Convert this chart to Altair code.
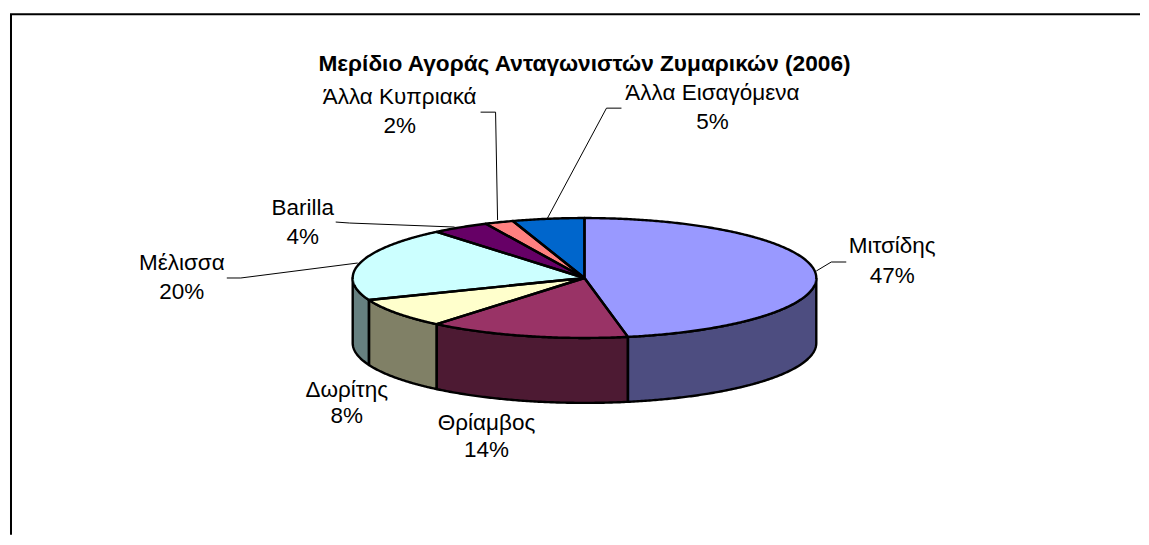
import math
import altair as alt
import pandas as pd

# --- chart values
names = ["Μιτσίδης", "Θρίαμβος", "Δωρίτης", "Μέλισσα", "Barilla", "Άλλα Κυπριακά", "Άλλα Εισαγόμενα"]
shares = [47, 14, 8, 20, 4, 2, 5]
top_colors = ["#9999FF", "#993366", "#FFFFCC", "#CCFFFF", "#660066", "#FF8080", "#0066CC"]
side_colors = ["#4D4D80", "#4D1A33", "#808066", "#668080", "#330033", "#804040", "#003366"]
title_text = "Μερίδιο Αγοράς Ανταγωνιστών Ζυμαρικών (2006)"

# --- layout (units = px relative to the pie centre)
W, H = 1133, 527
CX, CY = 585, 278
RX, RY, DEPTH = 232, 60, 65
FONT = "Liberation Sans"
FS = 22.5
TFS = 22.7
label_x = [893, 487, 347, 182, 303, 400, 713]
label_y = [253, 430, 397, 270, 215, 104, 100]
pct_y = [283, 457, 423, 299, 244, 133, 129]
leaders = [
    [(817, 271), (832, 262), (847, 262)],
    [],
    [],
    [(358, 263), (241, 278), (227, 278)],
    [(455, 227), (350, 223), (336, 222)],
    [(498, 220), (496, 112), (481, 112)],
    [(548, 218), (607, 108), (622, 108)],
]


def pt(deg):
    t = math.radians(deg)
    return RX * math.sin(t), -RY * math.cos(t)


def arc(a0, a1):
    n = max(2, int(abs(a1 - a0) * 2))
    return [pt(a0 + (a1 - a0) * i / n) for i in range(n + 1)]


def envelope(poly):
    xs = sorted({round(p[0], 4) for p in poly})
    out = []
    m = len(poly)
    for x in xs:
        ys = []
        for i in range(m):
            (x0, y0), (x1, y1) = poly[i], poly[(i + 1) % m]
            lo, hi = min(x0, x1), max(x0, x1)
            if lo - 1e-3 <= x <= hi + 1e-3:
                if abs(x1 - x0) < 1e-6:
                    ys += [y0, y1]
                else:
                    ys.append(y0 + (y1 - y0) * (x - x0) / (x1 - x0))
        out.append((x, min(ys), max(ys)))
    return out


top_fill, side_fill, outline = [], [], []
cum = 0.0
total = sum(shares)
for i, (name, v) in enumerate(zip(names, shares)):
    a0 = cum / total * 360
    cum += v
    a1 = cum / total * 360
    poly = [(0.0, 0.0)] + arc(a0, a1)
    for x, y, y2 in envelope(poly):
        top_fill.append(dict(name=name, x=x, y=y, y2=y2))
    s0, s1 = max(a0, 90), min(a1, 270)
    if s1 > s0:
        pts = arc(s0, s1)
        for x, y in sorted(pts):
            side_fill.append(dict(name=name, x=x, y=y, y2=y + DEPTH))
        ring = pts + [(x, y + DEPTH) for x, y in reversed(pts)] + [pts[0]]
        for k, (x, y) in enumerate(ring):
            outline.append(dict(name="s" + name, ord=i, k=k, x=x, y=y))
    for k, (x, y) in enumerate(poly + [poly[0]]):
        outline.append(dict(name="t" + name, ord=i + 100, k=k, x=x, y=y))

xs = alt.Scale(domain=[8 - CX, 8 + W - CX], nice=False, zero=False)
ys = alt.Scale(domain=[8 - CY, 8 + H - CY], nice=False, zero=False, reverse=True)
X = alt.X("x:Q", scale=xs, axis=None)
Y = alt.Y("y:Q", scale=ys, axis=None)


def fills(rows, colors):
    f = pd.DataFrame(rows)
    return alt.Chart(f).mark_area(orient="vertical", opacity=1, interpolate="linear").encode(
        x=X, y=Y, y2="y2:Q",
        fill=alt.Fill("name:N", scale=alt.Scale(domain=names, range=colors), legend=None),
    )


ol = pd.DataFrame(outline)
side_line = alt.Chart(ol[ol.ord < 100]).mark_line(color="#000000", strokeWidth=2.4, strokeJoin="round").encode(
    x=X, y=Y, detail="name:N", order="k:Q")
top_line = alt.Chart(ol[ol.ord >= 100]).mark_line(color="#000000", strokeWidth=2.4, strokeJoin="round").encode(
    x=X, y=Y, detail="name:N", order="k:Q")

lead_rows = []
for name, path in zip(names, leaders):
    for k, (x, y) in enumerate(path):
        lead_rows.append(dict(name=name, k=k, x=x - CX, y=y - CY))
lead = alt.Chart(pd.DataFrame(lead_rows)).mark_line(color="#000000", strokeWidth=1).encode(
    x=X, y=Y, detail="name:N", order="k:Q")

lab = pd.DataFrame(dict(
    name=names,
    pct=[f"{v}%" for v in shares],
    x=[v - CX for v in label_x],
    y=[v - CY for v in label_y],
    yp=[v - CY for v in pct_y],
))
t1 = alt.Chart(lab).mark_text(font=FONT, fontSize=FS, color="#000000", align="center", baseline="alphabetic").encode(
    x=X, y=Y, text="name:N")
t2 = alt.Chart(lab).mark_text(font=FONT, fontSize=FS, color="#000000", align="center", baseline="alphabetic").encode(
    x=X, y=alt.Y("yp:Q", scale=ys, axis=None), text="pct:N")
ttl = alt.Chart(pd.DataFrame(dict(t=[title_text], x=[0], y=[71 - CY]))).mark_text(
    font=FONT, fontSize=TFS, fontWeight="bold", color="#000000", align="center", baseline="alphabetic"
).encode(x=X, y=Y, text="t:N")

frame_l = alt.Chart(pd.DataFrame(dict(a=[0]))).mark_rule(color="#000000", strokeWidth=2).encode(
    x=alt.value(3), y=alt.value(6), y2=alt.value(H))
frame_t = alt.Chart(pd.DataFrame(dict(a=[0]))).mark_rule(color="#000000", strokeWidth=2).encode(
    x=alt.value(2), x2=alt.value(W), y=alt.value(6))

chart = alt.layer(
    frame_l, frame_t, lead,
    fills(side_fill, side_colors), side_line,
    fills(top_fill, top_colors), top_line,
    t1, t2, ttl,
).resolve_scale(fill="independent").properties(
    width=W, height=H, padding=0, background="#FFFFFF"
).configure_view(stroke=None)

chart.save("out.html", embed_options={"renderer": "svg", "actions": False})
